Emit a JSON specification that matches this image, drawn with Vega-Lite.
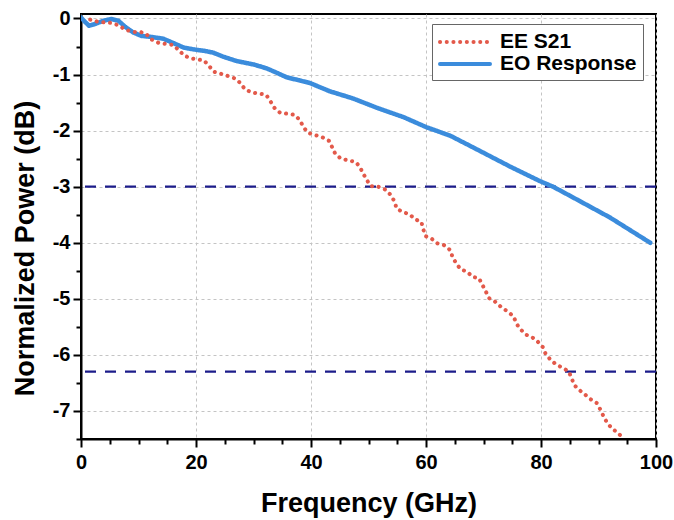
{
  "$schema": "https://vega.github.io/schema/vega-lite/v6.json",
  "width": 575,
  "height": 425,
  "autosize": "none",
  "padding": {"left": 81, "top": 14, "right": 18, "bottom": 81},
  "background": "white",
  "config": {
    "font": "Liberation Sans",
    "view": {"stroke": "black", "strokeWidth": 2},
    "axis": {
      "labelFont": "Liberation Sans",
      "labelFontWeight": "bold",
      "labelFontSize": 20,
      "labelColor": "black",
      "labelFlush": false,
      "titleFont": "Liberation Sans",
      "titleFontWeight": "bold",
      "titleFontSize": 27,
      "titleColor": "black",
      "domainColor": "black",
      "domainWidth": 2,
      "tickColor": "black",
      "tickWidth": 2,
      "gridColor": "#c4c4c4",
      "gridDash": [3, 3],
      "gridWidth": 1
    },
    "axisX": {
      "values": [0, 10, 20, 30, 40, 50, 60, 70, 80, 90, 100],
      "labelExpr": "datum.value % 20 == 0 ? toString(datum.value) : ''",
      "tickSize": {"condition": {"test": "datum.value % 20 != 0", "value": 5}, "value": 8},
      "gridOpacity": {"condition": {"test": "datum.value % 20 != 0", "value": 0}, "value": 1},
      "labelPadding": 5,
      "titlePadding": 18
    },
    "axisY": {
      "values": [0, -0.5, -1, -1.5, -2, -2.5, -3, -3.5, -4, -4.5, -5, -5.5, -6, -6.5, -7, -7.5],
      "labelExpr": "datum.value % 1 == 0 ? toString(datum.value) : ''",
      "tickSize": {"condition": {"test": "datum.value % 1 != 0", "value": 5}, "value": 8},
      "gridOpacity": {"condition": {"test": "datum.value % 1 != 0", "value": 0}, "value": 1},
      "labelPadding": 3,
      "titlePadding": 13,
      "titleY": 234
    }
  },
  "datasets": {
    "curves": [
      {"series": "EO Response", "f": 0.0, "p": 0.02},
      {"series": "EO Response", "f": 0.5, "p": -0.04},
      {"series": "EO Response", "f": 1.4, "p": -0.13},
      {"series": "EO Response", "f": 2.4, "p": -0.1},
      {"series": "EO Response", "f": 3.9, "p": -0.04},
      {"series": "EO Response", "f": 5.3, "p": -0.01},
      {"series": "EO Response", "f": 6.5, "p": -0.04},
      {"series": "EO Response", "f": 7.7, "p": -0.15},
      {"series": "EO Response", "f": 9.1, "p": -0.25},
      {"series": "EO Response", "f": 10.5, "p": -0.31},
      {"series": "EO Response", "f": 12.3, "p": -0.33},
      {"series": "EO Response", "f": 14.3, "p": -0.36},
      {"series": "EO Response", "f": 16.1, "p": -0.44},
      {"series": "EO Response", "f": 17.9, "p": -0.52},
      {"series": "EO Response", "f": 19.5, "p": -0.55},
      {"series": "EO Response", "f": 21.6, "p": -0.58},
      {"series": "EO Response", "f": 23.0, "p": -0.61},
      {"series": "EO Response", "f": 24.7, "p": -0.68},
      {"series": "EO Response", "f": 27.1, "p": -0.76},
      {"series": "EO Response", "f": 30.0, "p": -0.82},
      {"series": "EO Response", "f": 32.3, "p": -0.89},
      {"series": "EO Response", "f": 34.3, "p": -0.98},
      {"series": "EO Response", "f": 35.8, "p": -1.05},
      {"series": "EO Response", "f": 39.8, "p": -1.15},
      {"series": "EO Response", "f": 43.3, "p": -1.3},
      {"series": "EO Response", "f": 47.4, "p": -1.43},
      {"series": "EO Response", "f": 51.4, "p": -1.59},
      {"series": "EO Response", "f": 56.1, "p": -1.76},
      {"series": "EO Response", "f": 60.1, "p": -1.94},
      {"series": "EO Response", "f": 64.2, "p": -2.09},
      {"series": "EO Response", "f": 68.2, "p": -2.3},
      {"series": "EO Response", "f": 74.6, "p": -2.64},
      {"series": "EO Response", "f": 79.8, "p": -2.9},
      {"series": "EO Response", "f": 82.1, "p": -3.0},
      {"series": "EO Response", "f": 86.8, "p": -3.26},
      {"series": "EO Response", "f": 92.0, "p": -3.55},
      {"series": "EO Response", "f": 99.0, "p": -4.0},
      {"series": "EE S21", "f": 1.6, "p": -0.02},
      {"series": "EE S21", "f": 3.0, "p": -0.06},
      {"series": "EE S21", "f": 5.3, "p": -0.08},
      {"series": "EE S21", "f": 6.5, "p": -0.12},
      {"series": "EE S21", "f": 7.7, "p": -0.2},
      {"series": "EE S21", "f": 9.1, "p": -0.24},
      {"series": "EE S21", "f": 10.3, "p": -0.24},
      {"series": "EE S21", "f": 11.3, "p": -0.27},
      {"series": "EE S21", "f": 12.2, "p": -0.37},
      {"series": "EE S21", "f": 13.6, "p": -0.44},
      {"series": "EE S21", "f": 15.9, "p": -0.47},
      {"series": "EE S21", "f": 17.0, "p": -0.56},
      {"series": "EE S21", "f": 17.9, "p": -0.66},
      {"series": "EE S21", "f": 19.1, "p": -0.71},
      {"series": "EE S21", "f": 21.4, "p": -0.75},
      {"series": "EE S21", "f": 22.3, "p": -0.85},
      {"series": "EE S21", "f": 23.1, "p": -0.95},
      {"series": "EE S21", "f": 24.5, "p": -0.99},
      {"series": "EE S21", "f": 26.8, "p": -1.07},
      {"series": "EE S21", "f": 27.7, "p": -1.15},
      {"series": "EE S21", "f": 28.5, "p": -1.26},
      {"series": "EE S21", "f": 29.7, "p": -1.32},
      {"series": "EE S21", "f": 32.2, "p": -1.36},
      {"series": "EE S21", "f": 32.9, "p": -1.47},
      {"series": "EE S21", "f": 33.6, "p": -1.59},
      {"series": "EE S21", "f": 34.6, "p": -1.68},
      {"series": "EE S21", "f": 37.2, "p": -1.72},
      {"series": "EE S21", "f": 38.1, "p": -1.82},
      {"series": "EE S21", "f": 38.7, "p": -1.94},
      {"series": "EE S21", "f": 39.5, "p": -2.04},
      {"series": "EE S21", "f": 42.0, "p": -2.12},
      {"series": "EE S21", "f": 43.1, "p": -2.18},
      {"series": "EE S21", "f": 43.7, "p": -2.3},
      {"series": "EE S21", "f": 44.2, "p": -2.41},
      {"series": "EE S21", "f": 45.2, "p": -2.5},
      {"series": "EE S21", "f": 47.8, "p": -2.56},
      {"series": "EE S21", "f": 48.5, "p": -2.65},
      {"series": "EE S21", "f": 49.1, "p": -2.77},
      {"series": "EE S21", "f": 49.7, "p": -2.88},
      {"series": "EE S21", "f": 50.4, "p": -2.99},
      {"series": "EE S21", "f": 51.7, "p": -3.0},
      {"series": "EE S21", "f": 52.9, "p": -3.05},
      {"series": "EE S21", "f": 53.8, "p": -3.14},
      {"series": "EE S21", "f": 54.5, "p": -3.26},
      {"series": "EE S21", "f": 54.9, "p": -3.39},
      {"series": "EE S21", "f": 55.9, "p": -3.45},
      {"series": "EE S21", "f": 57.1, "p": -3.49},
      {"series": "EE S21", "f": 58.1, "p": -3.58},
      {"series": "EE S21", "f": 59.2, "p": -3.63},
      {"series": "EE S21", "f": 59.5, "p": -3.75},
      {"series": "EE S21", "f": 59.9, "p": -3.88},
      {"series": "EE S21", "f": 61.0, "p": -3.93},
      {"series": "EE S21", "f": 62.0, "p": -4.01},
      {"series": "EE S21", "f": 63.1, "p": -4.04},
      {"series": "EE S21", "f": 64.2, "p": -4.13},
      {"series": "EE S21", "f": 64.6, "p": -4.25},
      {"series": "EE S21", "f": 65.2, "p": -4.36},
      {"series": "EE S21", "f": 66.0, "p": -4.47},
      {"series": "EE S21", "f": 67.2, "p": -4.52},
      {"series": "EE S21", "f": 68.1, "p": -4.61},
      {"series": "EE S21", "f": 69.2, "p": -4.63},
      {"series": "EE S21", "f": 69.8, "p": -4.75},
      {"series": "EE S21", "f": 70.4, "p": -4.87},
      {"series": "EE S21", "f": 71.0, "p": -4.99},
      {"series": "EE S21", "f": 72.0, "p": -5.05},
      {"series": "EE S21", "f": 73.0, "p": -5.14},
      {"series": "EE S21", "f": 74.1, "p": -5.22},
      {"series": "EE S21", "f": 75.2, "p": -5.31},
      {"series": "EE S21", "f": 75.7, "p": -5.43},
      {"series": "EE S21", "f": 76.2, "p": -5.52},
      {"series": "EE S21", "f": 77.4, "p": -5.64},
      {"series": "EE S21", "f": 78.4, "p": -5.68},
      {"series": "EE S21", "f": 79.4, "p": -5.76},
      {"series": "EE S21", "f": 80.3, "p": -5.86},
      {"series": "EE S21", "f": 80.8, "p": -5.98},
      {"series": "EE S21", "f": 81.6, "p": -6.08},
      {"series": "EE S21", "f": 82.5, "p": -6.16},
      {"series": "EE S21", "f": 83.7, "p": -6.23},
      {"series": "EE S21", "f": 84.8, "p": -6.29},
      {"series": "EE S21", "f": 85.3, "p": -6.41},
      {"series": "EE S21", "f": 85.8, "p": -6.54},
      {"series": "EE S21", "f": 86.7, "p": -6.63},
      {"series": "EE S21", "f": 87.7, "p": -6.71},
      {"series": "EE S21", "f": 88.6, "p": -6.79},
      {"series": "EE S21", "f": 89.7, "p": -6.86},
      {"series": "EE S21", "f": 90.4, "p": -6.99},
      {"series": "EE S21", "f": 90.9, "p": -7.1},
      {"series": "EE S21", "f": 91.5, "p": -7.21},
      {"series": "EE S21", "f": 92.4, "p": -7.32},
      {"series": "EE S21", "f": 93.3, "p": -7.38},
      {"series": "EE S21", "f": 94.2, "p": -7.48}
    ],
    "levels": [{"level": -3}, {"level": -6.3}]
  },
  "layer": [
    {
      "data": {"name": "levels"},
      "mark": {"type": "rule", "color": "#1c1c8a", "strokeWidth": 2.2, "strokeDash": [11, 9]},
      "encoding": {
        "y": {"field": "level", "type": "quantitative", "title": "Normalized Power (dB)", "scale": {"domain": [-7.5, 0.08], "nice": false, "zero": false}}
      }
    },
    {
      "data": {"name": "curves"},
      "transform": [{"filter": "datum.series == 'EO Response'"}],
      "mark": {"type": "line", "strokeWidth": 4.5, "strokeCap": "round", "strokeJoin": "round", "clip": true},
      "encoding": {
        "x": {"field": "f", "type": "quantitative", "title": "Frequency (GHz)", "scale": {"domain": [0, 100], "nice": false}},
        "y": {"field": "p", "type": "quantitative", "title": "Normalized Power (dB)"},
        "color": {
          "field": "series",
          "type": "nominal",
          "scale": {"domain": ["EE S21", "EO Response"], "range": ["#e3594a", "#3b8cdc"]},
          "legend": {
            "title": null,
            "orient": "none",
            "legendX": 351,
            "legendY": 10,
            "symbolType": "M-1,0H4",
            "symbolSize": 400,
            "symbolStrokeWidth": 4,
            "labelFontSize": 21,
            "labelFontWeight": "bold",
            "labelColor": "black",
            "labelFont": "Liberation Sans",
            "labelOffset": 38,
            "strokeColor": "#666666",
            "fillColor": "white",
            "padding": 6,
            "rowPadding": 0,
            "cornerRadius": 0,
            "encode": {"symbols": {"update": {"strokeCap": {"value": "round"}}}}
          }
        },
        "strokeDash": {
          "field": "series",
          "type": "nominal",
          "scale": {"domain": ["EE S21", "EO Response"], "range": [[0.1, 6.6], [1, 0]]}
        }
      }
    },
    {
      "data": {"name": "curves"},
      "transform": [{"filter": "datum.series == 'EE S21'"}],
      "mark": {"type": "line", "strokeWidth": 4, "strokeCap": "round", "strokeJoin": "round", "clip": true},
      "encoding": {
        "x": {"field": "f", "type": "quantitative", "title": "Frequency (GHz)"},
        "y": {"field": "p", "type": "quantitative", "title": "Normalized Power (dB)"},
        "color": {"field": "series", "type": "nominal"},
        "strokeDash": {"field": "series", "type": "nominal"}
      }
    }
  ]
}
